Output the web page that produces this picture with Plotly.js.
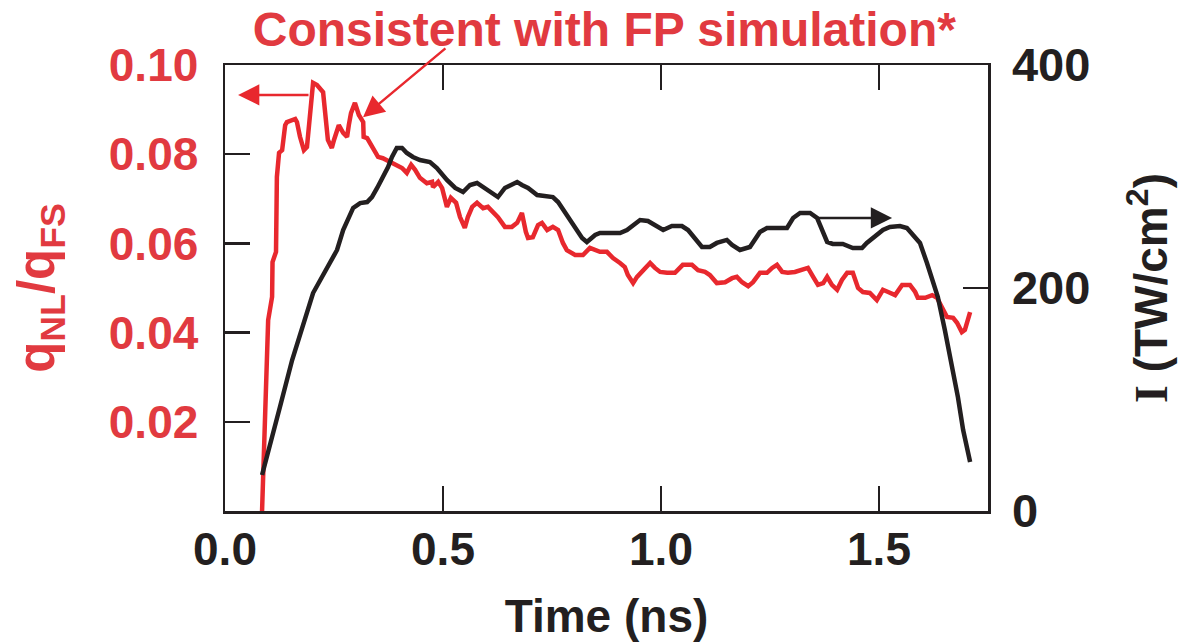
<!DOCTYPE html>
<html>
<head>
<meta charset="utf-8">
<script src="https://cdn.plot.ly/plotly-3.0.1.min.js"></script>
<style>html,body{margin:0;padding:0;background:#fff;}#chart{width:1192px;height:642px;}</style>
</head>
<body>
<div id="chart"></div>
<script>
// Time (ns) and q_NL/q_FS (red, left axis)
const tRed = [0.085,0.099,0.108,0.109,0.117,0.119,0.124,0.131,0.138,0.142,0.161,0.165,0.172,0.181,0.188,0.200,0.202,0.211,0.225,0.236,0.245,0.250,0.257,0.261,0.271,0.280,0.284,0.289,0.298,0.307,0.317,0.318,0.326,0.339,0.351,0.362,0.378,0.394,0.406,0.417,0.427,0.436,0.447,0.463,0.475,0.477,0.489,0.498,0.509,0.518,0.530,0.539,0.550,0.557,0.567,0.578,0.592,0.603,0.615,0.626,0.642,0.658,0.670,0.681,0.690,0.695,0.706,0.718,0.727,0.739,0.752,0.764,0.775,0.784,0.803,0.821,0.837,0.860,0.876,0.890,0.906,0.917,0.924,0.936,0.945,0.959,0.975,0.986,0.998,1.014,1.032,1.050,1.071,1.085,1.101,1.112,1.128,1.147,1.163,1.174,1.186,1.200,1.211,1.227,1.243,1.255,1.266,1.278,1.291,1.307,1.319,1.337,1.349,1.360,1.372,1.381,1.392,1.404,1.415,1.427,1.440,1.452,1.463,1.479,1.495,1.509,1.521,1.537,1.553,1.571,1.583,1.589,1.606,1.622,1.633,1.644,1.656,1.670,1.679,1.690,1.697,1.709];
const qRatio = [0.0000,0.0428,0.0480,0.0558,0.0581,0.0749,0.0803,0.0809,0.0865,0.0872,0.0879,0.0872,0.0839,0.0809,0.0816,0.0937,0.0960,0.0955,0.0939,0.0832,0.0814,0.0832,0.0854,0.0865,0.0848,0.0839,0.0865,0.0892,0.0915,0.0888,0.0872,0.0839,0.0836,0.0814,0.0794,0.0791,0.0783,0.0776,0.0769,0.0758,0.0776,0.0765,0.0747,0.0735,0.0738,0.0726,0.0738,0.0724,0.0682,0.0702,0.0691,0.0659,0.0635,0.0659,0.0682,0.0691,0.0679,0.0682,0.0670,0.0659,0.0637,0.0637,0.0646,0.0668,0.0626,0.0612,0.0614,0.0641,0.0646,0.0630,0.0637,0.0630,0.0601,0.0585,0.0574,0.0574,0.0590,0.0581,0.0581,0.0567,0.0556,0.0547,0.0529,0.0511,0.0525,0.0540,0.0556,0.0545,0.0536,0.0534,0.0534,0.0552,0.0552,0.0540,0.0536,0.0529,0.0511,0.0513,0.0522,0.0525,0.0513,0.0504,0.0513,0.0534,0.0534,0.0545,0.0552,0.0536,0.0534,0.0536,0.0540,0.0545,0.0525,0.0507,0.0511,0.0525,0.0507,0.0496,0.0518,0.0534,0.0534,0.0500,0.0491,0.0489,0.0473,0.0496,0.0491,0.0484,0.0507,0.0507,0.0491,0.0478,0.0478,0.0484,0.0478,0.0457,0.0435,0.0433,0.0422,0.0401,0.0406,0.0446];

// Time (ns) and intensity I (TW/cm^2) (black, right axis)
const tBlack = [0.085,0.099,0.126,0.154,0.202,0.257,0.271,0.294,0.310,0.326,0.337,0.349,0.362,0.374,0.383,0.394,0.406,0.417,0.431,0.447,0.470,0.486,0.509,0.528,0.546,0.562,0.578,0.592,0.615,0.626,0.642,0.654,0.670,0.681,0.695,0.716,0.739,0.752,0.764,0.780,0.798,0.819,0.830,0.849,0.860,0.906,0.922,0.936,0.952,0.970,0.991,1.005,1.025,1.048,1.062,1.083,1.094,1.112,1.128,1.151,1.163,1.181,1.204,1.227,1.243,1.289,1.303,1.319,1.342,1.358,1.369,1.381,1.394,1.417,1.440,1.461,1.472,1.486,1.509,1.525,1.548,1.564,1.578,1.594,1.610,1.624,1.635,1.651,1.667,1.681,1.693,1.709];
const intensity = [32.3,52.0,93.3,135.4,195.5,234.1,252.0,271.8,276.2,277.1,281.6,289.7,298.7,308.5,317.5,325.6,325.6,321.1,317.5,314.8,313.0,307.6,296.9,289.7,286.1,292.4,294.2,290.6,285.2,281.6,289.7,292.4,295.1,292.4,289.7,283.4,281.6,281.6,277.1,267.3,256.5,244.9,241.3,247.5,249.3,249.3,252.0,256.5,261.0,260.1,254.7,252.0,255.6,255.6,252.0,241.3,236.8,236.8,240.4,243.1,238.6,234.1,236.8,250.2,253.8,253.8,262.8,267.3,267.3,262.8,252.0,241.3,239.5,239.5,235.9,235.9,240.4,244.9,252.0,254.7,255.6,253.8,247.5,240.4,222.4,204.5,191.9,162.3,132.7,102.2,72.6,43.9];

const xTickVals = [0, 0.5, 1.0, 1.5];
const yTickVals = [0.02, 0.04, 0.06, 0.08, 0.10];
const y2TickVals = [0, 200, 400];

const RED = '#e8282e';
const RED_TXT = '#e13a40';
const BLK = '#231f20';
const FONT = 'Liberation Sans, Arial, Helvetica, sans-serif';

const traces = [
  {x: tBlack, y: intensity, yaxis: 'y2', mode: 'lines', line: {color: BLK, width: 4.5}, hoverinfo: 'skip'},
  {x: tRed, y: qRatio, yaxis: 'y', mode: 'lines', line: {color: RED, width: 4.5}, hoverinfo: 'skip'}
];

const layout = {
  width: 1192, height: 642,
  margin: {l: 225, r: 204, t: 65, b: 131, pad: 0},
  paper_bgcolor: '#fff', plot_bgcolor: '#fff',
  showlegend: false,
  font: {family: FONT, color: BLK},
  title: {
    text: 'Consistent with FP simulation*',
    font: {family: FONT, size: 48, color: RED_TXT, weight: 'bold'},
    xref: 'container', x: 0.507, xanchor: 'center',
    yref: 'container', y: 1 - 29/642, yanchor: 'middle'
  },
  xaxis: {
    range: [0, 1.75], tickvals: xTickVals, tickformat: '.1f',
    ticks: 'inside', ticklen: 25, tickwidth: 2.5, tickcolor: BLK,
    showline: true, linecolor: BLK, linewidth: 2.5, mirror: 'ticks',
    showgrid: false, zeroline: false,
    tickfont: {family: FONT, size: 46, color: BLK, weight: 'bold'},
    ticklabelstandoff: -4,
    title: {text: 'Time (ns)', font: {family: FONT, size: 46, color: BLK, weight: 'bold'}, standoff: 26}
  },
  yaxis: {
    range: [0, 0.1], tickvals: yTickVals, tickformat: '.2f',
    ticks: 'inside', ticklen: 25, tickwidth: 2.5, tickcolor: BLK,
    showline: true, linecolor: BLK, linewidth: 2.5,
    showgrid: false, zeroline: false,
    tickfont: {family: FONT, size: 46, color: RED_TXT, weight: 'bold'},
    ticklabelstandoff: 15,
    title: {text: 'q<sub>NL</sub>/q<sub>FS</sub>', font: {family: FONT, size: 51, color: RED_TXT, weight: 'bold'}, standoff: 38}
  },
  yaxis2: {
    range: [0, 400], tickvals: y2TickVals, overlaying: 'y', side: 'right',
    ticks: 'inside', ticklen: 25, tickwidth: 2.5, tickcolor: BLK,
    showline: true, linecolor: BLK, linewidth: 2.5,
    showgrid: false, zeroline: false,
    tickfont: {family: FONT, size: 47, color: BLK, weight: 'bold'},
    ticklabelstandoff: 12,
    title: {text: '<span style="font-family:Liberation Serif">I</span> (TW/cm<sup>2</sup>)', font: {family: FONT, size: 46, color: BLK, weight: 'bold'}, standoff: 46}
  },
  annotations: [
    {xref: 'x', yref: 'y', axref: 'x', ayref: 'y', x: 0.030, y: 0.0933, ax: 0.195, ay: 0.0933,
     text: '', showarrow: true, arrowhead: 2, arrowsize: 1.7, arrowwidth: 2.5, arrowcolor: RED},
    {xref: 'x', yref: 'y', axref: 'x', ayref: 'y', x: 0.3165, y: 0.0883, ax: 0.509, ay: 0.104,
     text: '', showarrow: true, arrowhead: 2, arrowsize: 1.7, arrowwidth: 2.5, arrowcolor: RED},
    {xref: 'x', yref: 'y', axref: 'x', ayref: 'y', x: 1.530, y: 0.0657, ax: 1.358, ay: 0.0657,
     text: '', showarrow: true, arrowhead: 2, arrowsize: 1.7, arrowwidth: 2.5, arrowcolor: BLK}
  ]
};

Plotly.newPlot('chart', traces, layout, {staticPlot: true, displayModeBar: false});
</script>
</body>
</html>
